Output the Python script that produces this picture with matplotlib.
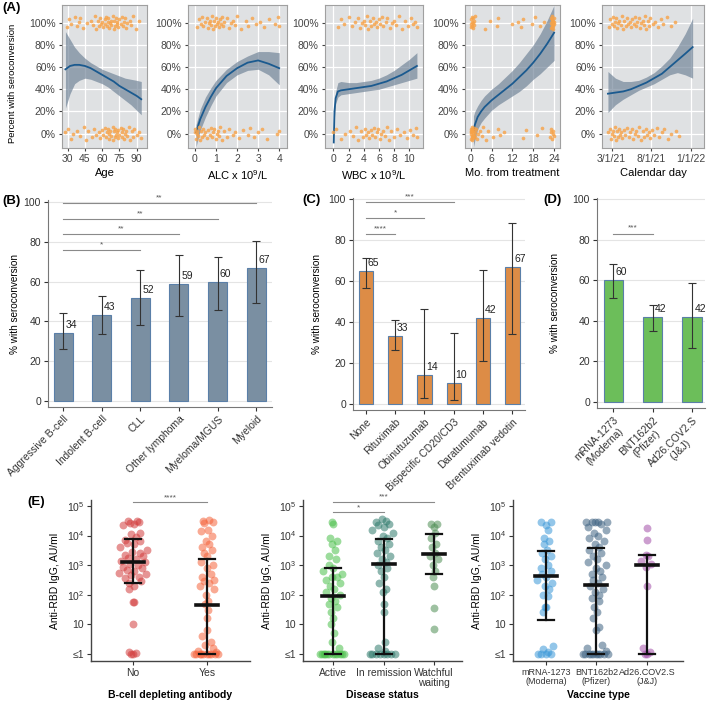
import numpy as np
import matplotlib
matplotlib.use("Agg")
import matplotlib.pyplot as plt

plt.rcParams['font.family'] = ['Liberation Sans', 'DejaVu Sans']
plt.rcParams['mathtext.fontset'] = 'custom'
plt.rcParams['mathtext.rm'] = 'Liberation Sans'
plt.rcParams['mathtext.it'] = 'Liberation Sans'

# ---------------- (A) smooth fits (% seroconverted) and jittered outcomes ----------------
age_x = [28, 32, 36, 40, 45, 50, 55, 60, 65, 70, 75, 80, 85, 90, 94]
age_fit = [58, 61, 62, 62, 61, 59, 56, 53, 50, 47, 43, 40, 37, 34, 31]
age_lo = [23, 36, 45, 48, 50, 49, 47, 45, 42, 38, 34, 30, 26, 21, 17]
age_hi = [92, 85, 78, 73, 68, 64, 61, 58, 56, 54, 52, 50, 49, 48, 47]
age_yes = [29, 31, 33, 36, 38, 40, 41, 43, 47, 50, 52, 54, 55, 56, 57, 58, 59, 60, 61, 62, 62, 63,
           64, 65, 65, 66, 67, 68, 68, 69, 70, 70, 71, 72, 73, 73, 74, 75, 76, 77, 78, 79, 80, 81,
           82, 84, 85, 87, 89, 92]
age_no = [28, 30, 33, 35, 38, 41, 44, 46, 48, 51, 53, 55, 57, 58, 60, 61, 62, 63, 64, 65, 66, 66,
          67, 68, 69, 69, 70, 71, 71, 72, 73, 74, 74, 75, 76, 77, 77, 78, 79, 80, 81, 82, 83, 84,
          86, 87, 88, 90, 92, 94]

alc_x = [0.05, 0.25, 0.5, 0.75, 1.0, 1.5, 2.0, 2.5, 3.0, 3.5, 4.0]
alc_fit = [1, 13, 24, 33, 41, 52, 59, 64, 66, 63, 59]
alc_lo = [-12, 3, 15, 25, 34, 46, 53, 57, 58, 53, 44]
alc_hi = [8, 22, 33, 41, 48, 58, 65, 70, 74, 74, 73]
alc_yes = [0.1, 0.2, 0.3, 0.35, 0.4, 0.5, 0.55, 0.6, 0.65, 0.7, 0.75, 0.8, 0.85, 0.9, 0.95, 1.0,
           1.05, 1.1, 1.15, 1.2, 1.25, 1.3, 1.35, 1.4, 1.5, 1.6, 1.7, 1.8, 1.9, 2.0, 2.2, 2.4, 2.5,
           2.7, 2.9, 3.1, 3.3, 3.5, 3.8, 3.95, 4.0]
alc_no = [0.0, 0.02, 0.05, 0.08, 0.1, 0.15, 0.2, 0.25, 0.3, 0.35, 0.4, 0.45, 0.5, 0.55, 0.6, 0.7,
          0.75, 0.8, 0.85, 0.9, 1.0, 1.05, 1.1, 1.15, 1.2, 1.3, 1.4, 1.5, 1.6, 1.8, 1.9, 2.1, 2.3,
          2.5, 2.6, 2.8, 3.0, 3.2, 3.4, 3.9, 4.0]

wbc_x = [0.05, 0.15, 0.3, 0.6, 1, 2, 3, 4, 5, 6, 7, 8, 9, 10, 11]
wbc_fit = [-8, 20, 32, 38, 39, 40, 41, 42, 43, 45, 47, 50, 53, 57, 61]
wbc_lo = [-10, 15, 27, 33, 35, 36, 37, 38, 39, 40, 42, 44, 46, 48, 50]
wbc_hi = [-5, 25, 38, 46, 47, 46, 46, 47, 48, 50, 53, 57, 62, 67, 73]
wbc_yes = [0.6, 1.0, 1.4, 2.0, 2.4, 2.9, 3.2, 3.5, 3.8, 4.0, 4.2, 4.4, 4.6, 4.8, 5.0, 5.2, 5.4,
           5.6, 5.8, 6.0, 6.2, 6.4, 6.6, 6.9, 7.1, 7.4, 7.7, 8.0, 8.3, 8.7, 9.0, 9.4, 9.8, 10.2,
           10.5, 10.8, 11.0]
wbc_no = [0.0, 0.3, 1.0, 1.5, 2.2, 2.6, 3.0, 3.3, 3.6, 3.9, 4.1, 4.3, 4.5, 4.7, 4.9, 5.1, 5.3,
          5.5, 5.7, 5.9, 6.1, 6.3, 6.5, 6.8, 7.0, 7.3, 7.6, 8.0, 8.4, 8.8, 9.3, 9.7, 10.1, 10.5,
          10.9, 11.0]

mo_x = [0.8, 1.2, 2, 3, 4, 6, 8, 10, 12, 14, 16, 18, 20, 22, 24]
mo_fit = [2, 8, 15, 20, 24, 30, 35, 40, 45, 51, 57, 64, 72, 81, 91]
mo_lo = [-12, -6, 4, 10, 14, 21, 26, 30, 34, 38, 43, 49, 54, 60, 66]
mo_hi = [16, 20, 25, 30, 34, 40, 45, 51, 57, 64, 72, 80, 90, 102, 116]
mo_yes = [0.0, 0.1, 0.2, 0.3, 0.4, 0.5, 0.6, 0.7, 0.8, 0.9, 1.0, 1.1, 4.0, 5.5, 7.5, 8.0, 12.0,
          13.5, 14.5, 15.0, 17.5, 18.5, 20.0, 21.0, 23.0, 23.1, 23.2, 23.3, 23.4, 23.5, 23.6, 23.7,
          23.8, 23.9, 24.0, 24.0, 23.5, 23.3, 23.8]
mo_no = [0.0, 0.05, 0.1, 0.15, 0.2, 0.25, 0.3, 0.35, 0.4, 0.45, 0.5, 0.55, 0.6, 0.7, 0.8, 0.9,
         1.0, 1.1, 1.3, 1.5, 1.8, 2.2, 2.7, 3.2, 3.6, 4.3, 5.0, 6.5, 7.8, 8.5, 9.5, 15.0, 16.0,
         19.0, 20.5, 22.8, 23.0, 23.2, 23.4, 23.6, 23.8, 24.0]

# calendar day = days since 3/1/21
day_x = [-14, 15, 45, 75, 105, 135, 165, 195, 225, 255, 285, 314]
day_fit = [36, 37, 38, 40, 43, 46, 50, 54, 60, 66, 72, 78]
day_lo = [19, 26, 31, 35, 39, 42, 45, 49, 53, 55, 53, 50]
day_hi = [56, 50, 47, 47, 48, 51, 55, 61, 68, 78, 90, 104]
day_yes = [-10, -5, 0, 5, 10, 14, 18, 22, 26, 30, 35, 40, 45, 50, 55, 60, 65, 70, 75, 80, 85, 90,
           95, 100, 105, 110, 115, 120, 125, 130, 135, 140, 145, 150, 160, 170, 180, 190, 200,
           215, 230, 245]
day_no = [-12, -6, -2, 2, 6, 10, 14, 18, 22, 26, 30, 34, 38, 42, 48, 54, 60, 66, 72, 78, 84, 90,
          96, 102, 108, 114, 120, 126, 132, 138, 144, 150, 158, 166, 175, 185, 195, 205, 218,
          232, 248, 262]

# ---------------- (B)(C)(D) % with seroconversion, 95% CI ----------------
b_groups = ["Aggressive B-cell", "Indolent B-cell", "CLL", "Other lymphoma", "Myeloma/MGUS", "Myeloid"]
b_pct = [34, 43, 52, 59, 60, 67]
b_lo = [26, 33.5, 38, 42.5, 45.5, 49.5]
b_hi = [44, 53, 66, 73.5, 72.5, 80.5]
b_sig = [(0, 2, 76, '*'), (0, 3, 84, '**'), (0, 4, 91.5, '**'), (0, 5, 99.5, '**')]

c_groups = ["None", "Rituximab", "Obinutuzumab", "Bispecific CD20/CD3", "Daratumumab", "Brentuximab vedotin"]
c_pct = [65, 33, 14, 10, 42, 67]
c_lo = [56.7, 26.3, 2.8, 2, 21, 34]
c_hi = [71.4, 40.7, 46.3, 34.5, 65.5, 88.3]
c_sig = [(0, 1, 83, '****'), (0, 2, 90.6, '*'), (0, 3, 98.7, '***')]

d_groups = ["mRNA-1273\n(Moderna)", "BNT162b2\n(Pfizer)", "Ad26.COV2.S\n(J&J)"]
d_pct = [60, 42, 42]
d_lo = [51, 35, 26.5]
d_hi = [68, 48, 58.5]
d_sig = [(0, 1, 83, '***')]

# ---------------- (E) anti-RBD IgG, log10 AU/ml (0 means <=1) ----------------
no_log10 = [4.5, 4.48, 4.45, 4.42, 4.4, 4.35, 4.1, 4.05, 3.95, 3.85, 3.8, 3.75, 3.7, 3.6, 3.5, 3.45,
            3.4, 3.35, 3.3, 3.25, 3.2, 3.15, 3.1, 3.05, 3.0, 2.95, 2.9, 2.85, 2.8, 2.75, 2.7, 2.65,
            2.6, 2.55, 2.45, 2.4, 2.3, 2.2, 1.75, 1.75, 1.0, 0.05, 0.0, 0.02, 0.0]
yes_log10 = [4.52, 4.5, 4.45, 4.42, 4.2, 4.15, 4.0, 3.8, 3.7, 3.6, 3.5, 3.4, 3.3, 3.1, 3.0, 2.9,
             2.7, 2.6, 2.5, 2.45, 2.4, 2.3, 2.2, 2.0, 1.8, 1.7, 1.5, 1.2, 0.8, 0.6, 0.4, 0.3, 0.2,
             0.1, 0.05, 0.0, 0.0, 0.0, 0.0, 0.0, 0.0, 0.0, 0.0, 0.0, 0.0]
active_log10 = [4.45, 4.4, 3.9, 3.8, 3.7, 3.5, 3.3, 3.2, 3.0, 2.9, 2.8, 2.7, 2.6, 2.6, 2.5, 2.4,
                2.3, 2.2, 2.1, 2.0, 1.9, 1.8, 1.7, 1.6, 1.4, 1.2, 1.0, 0.7, 0.4, 0.2, 0.0, 0.0,
                0.0, 0.0, 0.0, 0.0, 0.0, 0.0, 0.0, 0.0, 0.0, 0.0]
remission_log10 = [4.55, 4.5, 4.45, 4.4, 4.35, 4.3, 4.2, 4.1, 4.0, 3.9, 3.8, 3.7, 3.6, 3.5, 3.4,
                   3.3, 3.2, 3.1, 3.0, 2.9, 2.8, 2.6, 2.4, 2.2, 2.1, 1.7, 1.4, 0.4, 0.2, 0.1, 0.0,
                   0.0, 0.0, 0.0, 0.0, 0.0, 0.0, 0.0]
watchful_log10 = [4.4, 4.4, 4.3, 4.1, 3.9, 3.7, 3.6, 3.4, 3.3, 3.2, 3.0, 2.8, 2.6, 2.3, 1.55, 0.85]
mrna_log10 = [4.45, 4.45, 4.35, 4.2, 3.9, 3.8, 3.7, 3.5, 3.4, 3.3, 3.2, 3.0, 2.9, 2.8, 2.7, 2.6,
              2.5, 2.4, 2.3, 2.2, 2.0, 1.95, 1.6, 1.6, 1.4, 0.25, 0.15, 0.05, 0.0, 0.0, 0.0, 0.0]
bnt_log10 = [4.45, 4.45, 4.45, 4.45, 4.45, 4.4, 4.3, 4.2, 4.1, 4.0, 3.9, 3.8, 3.7, 3.6, 3.5, 3.4,
             3.3, 3.2, 3.1, 3.0, 2.9, 2.8, 2.7, 2.6, 2.5, 2.4, 2.3, 2.2, 2.1, 2.0, 1.9, 1.8, 1.6,
             1.4, 1.2, 0.9, 0.8, 0.3, 0.2, 0.1, 0.0, 0.0, 0.0, 0.0, 0.0, 0.0, 0.0, 0.0, 0.0, 0.0]
ad26_log10 = [4.25, 3.85, 3.35, 3.3, 3.15, 3.05, 2.95, 2.3, 0.2, 0.05, 0.0, 0.0]

# median and interquartile range (log10)
e1_names = ["No", "Yes"]
e1_med = [3.12, 1.65]
e1_q1 = [2.41, 0.0]
e1_q3 = [3.87, 3.2]
e2_names = ["Active", "In remission", "Watchful\nwaiting"]
e2_med = [1.96, 3.04, 3.39]
e2_q1 = [0.0, 0.0, 2.71]
e2_q3 = [2.9, 3.88, 4.05]
e3_names = ["mRNA-1273\n(Moderna)", "BNT162b2\n(Pfizer)", "Ad26.COV2.S\n(J&J)"]
e3_med = [2.64, 2.33, 3.0]
e3_q1 = [1.13, 0.0, 0.0]
e3_q3 = [3.47, 3.59, 3.34]

W, H = 709, 702
fig = plt.figure(figsize=(W / 100, H / 100), dpi=100)


def box(l, t, r, b):
    # pixel box -> figure fraction
    return [l / W, 1 - b / H, (r - l) / W, (b - t) / H]


def plabel(x, y, s):
    fig.text(x / W, 1 - y / H, s, fontsize=9.5, fontweight='bold', va='center', ha='left')


# ---------------- row A ----------------
jit = np.array([-4, 3, -1, 5, -3, 1, 4, -5, 0, 2, -2, 6, -6, 2, -3, 4, -1, 1])

a_panels = [
    (62, 147, (25, 99), [30, 45, 60, 75, 90], None, "Age", age_x, age_fit, age_lo, age_hi, age_yes, age_no),
    (188, 287, (-0.33, 4.37), [0, 1, 2, 3, 4], None, "ALC x 10$^9$/L", alc_x, alc_fit, alc_lo, alc_hi, alc_yes, alc_no),
    (325, 423, (-1.1, 11.8), [0, 2, 4, 6, 8, 10], None, "WBC x 10$^9$/L", wbc_x, wbc_fit, wbc_lo, wbc_hi, wbc_yes, wbc_no),
    (465, 560, (-1.64, 25.7), [0, 6, 12, 18, 24], None, "Mo. from treatment", mo_x, mo_fit, mo_lo, mo_hi, mo_yes, mo_no),
    (602, 704, (-37, 358), [0, 153, 306], ["3/1/21", "8/1/21", "1/1/22"], "Calendar day", day_x, day_fit, day_lo, day_hi, day_yes, day_no),
]

for i, (l, r, xl, xt, xtl, xlab, fx, fm, flo, fhi, pyes, pno) in enumerate(a_panels):
    ax = fig.add_axes(box(l, 5, r, 148))
    ax.set_facecolor('#dfe1e3')
    ax.grid(True, color='white', lw=0.9)
    ax.set_axisbelow(True)
    ax.fill_between(fx, flo, fhi, color='#6b7f94', alpha=0.65, lw=0, zorder=2)
    ax.plot(fx, fm, color='#1b5a8f', lw=1.3, zorder=3)
    ax.scatter(pyes, 100 + jit[np.arange(len(pyes)) % len(jit)], s=7, color='#f7a247', alpha=0.8, lw=0, zorder=4)
    ax.scatter(pno, 0 + jit[(np.arange(len(pno)) + 5) % len(jit)], s=7, color='#f7a247', alpha=0.8, lw=0, zorder=4)
    ax.set_xlim(*xl)
    ax.set_ylim(-13, 116)
    ax.set_xticks(xt)
    if xtl:
        ax.set_xticklabels(xtl)
    ax.set_yticks([0, 20, 40, 60, 80, 100])
    ax.set_yticklabels([f"{v}%" for v in [0, 20, 40, 60, 80, 100]])
    ax.tick_params(labelsize=7.5, colors='#444', length=2.5, pad=2)
    for s in ax.spines.values():
        s.set_color('#a0a0a0')
    ax.set_xlabel(xlab, fontsize=8, labelpad=3)
    if i == 0:
        ax.set_ylabel("Percent with seroconversion", fontsize=6.8)
        ax.yaxis.set_label_coords(-45 / (r - l), 0.45)

plabel(2, 8, "(A)")


# ---------------- row B, C, D ----------------
def bar_panel(rect, xl, yl, names, pct, lo, hi, color, sigs, ylab_x, lsp=1.0):
    ax = fig.add_axes(rect)
    x = np.arange(len(pct))
    pct = np.array(pct)
    ax.bar(x, pct, width=0.49, color=color, edgecolor='#5a7fa8', lw=0.8, zorder=2)
    ax.errorbar(x, pct, yerr=[pct - np.array(lo), np.array(hi) - pct], fmt='none', ecolor='#333333',
                elinewidth=0.8, capsize=3, capthick=0.8, zorder=3)
    for xi, v in zip(x, pct):
        ax.text(xi + 0.06, v + 1.5, str(v), ha='left', va='bottom', fontsize=7.5, color='#222', zorder=4)
    for a, b, y, s in sigs:
        ax.plot([a, b], [y, y], color='#8a8a8a', lw=0.8, clip_on=False)
        ax.text((a + b) / 2, y + 0.8, s, ha='center', va='bottom', fontsize=6, color='#555')
    ax.set_xlim(*xl)
    ax.set_ylim(*yl)
    ax.set_yticks([0, 20, 40, 60, 80, 100])
    ax.yaxis.grid(True, color='#e4e4e4', lw=0.8)
    ax.set_axisbelow(True)
    ax.set_xticks(x)
    ax.set_xticklabels(names, rotation=45, ha='right', rotation_mode='anchor', multialignment='center',
                       linespacing=lsp)
    ax.tick_params(labelsize=7.5, colors='#333', length=3, pad=2)
    for s in ['top', 'right']:
        ax.spines[s].set_visible(False)
    for s in ['left', 'bottom']:
        ax.spines[s].set_color('#777')
    ax.set_ylabel("% with seroconversion", fontsize=7.2)
    ax.yaxis.set_label_coords(ylab_x, 0.5)
    return ax


bar_panel(box(48, 200, 272, 407), (-0.39, 5.41), (-3, 101), b_groups, b_pct, b_lo, b_hi, '#7a8fa2', b_sig, -0.125)
plabel(2, 201, "(B)")
bar_panel(box(353, 198, 525, 410), (-0.44, 5.43), (-3, 100.5), c_groups, c_pct, c_lo, c_hi, '#dd8c46', c_sig, -0.18)
plabel(302, 200, "(C)")
bar_panel(box(597, 198, 705, 408), (-0.41, 2.33), (-3, 100.5), d_groups, d_pct, d_lo, d_hi, '#6cbe5a', d_sig, -0.34,
          lsp=1.15)
plabel(543, 200, "(D)")


# ---------------- row E ----------------
def vdc(n):
    # van der Corput sequence in base 2, for quasirandom horizontal spread
    v, den = 0.0, 1.0
    while n:
        den *= 2
        n, rem = divmod(n, 2)
        v += rem / den
    return v


def spread(vals, ppu, maxoff=15, win=0.3, full=9):
    vals = np.asarray(vals, dtype=float)
    offs = np.zeros(len(vals))
    for rank, i in enumerate(np.argsort(vals)):
        n = np.sum(np.abs(vals - vals[i]) <= win)
        width = maxoff * min(1.0, (n - 1) / full)
        offs[i] = (2 * vdc(rank + 1) - 1) * width / ppu
    return offs


def dot_panel(l, r, xl, names, groups, colors, med, q1, q3, sigs, xlab, tsize):
    ax = fig.add_axes(box(l, 500, r, 661))
    ppu = (r - l) / (xl[1] - xl[0])
    for k, (vals, col) in enumerate(zip(groups, colors)):
        offs = spread(vals, ppu)
        ax.scatter(k + offs, 10 ** np.array(vals), s=32, color=col, alpha=0.55, lw=0, zorder=2)
        hw, cw = 11 / ppu, 8 / ppu
        ax.plot([k, k], [10 ** q1[k], 10 ** q3[k]], color='#111', lw=1.6, zorder=3)
        ax.plot([k - cw, k + cw], [10 ** q1[k]] * 2, color='#111', lw=1.6, zorder=3)
        ax.plot([k - cw, k + cw], [10 ** q3[k]] * 2, color='#111', lw=1.6, zorder=3)
        ax.plot([k - hw, k + hw], [10 ** med[k]] * 2, color='#111', lw=2.6, zorder=3)
    for a, b, y, s in sigs:
        ax.plot([a, b], [10 ** y] * 2, color='#8a8a8a', lw=0.8, clip_on=False)
        ax.text((a + b) / 2, 10 ** (y + 0.03), s, ha='center', va='bottom', fontsize=6, color='#555')
    ax.set_yscale('log')
    ax.set_ylim(10 ** -0.24, 10 ** 5.2)
    ax.set_yticks([1, 10, 100, 1e3, 1e4, 1e5])
    ax.set_yticklabels(['≤1', '10', '$10^2$', '$10^3$', '$10^4$', '$10^5$'])
    ax.minorticks_off()
    ax.set_xlim(*xl)
    ax.set_xticks(range(len(names)))
    ax.set_xticklabels(names, linespacing=1.0)
    ax.tick_params(axis='y', labelsize=7.5, colors='#333', length=3, pad=2)
    ax.tick_params(axis='x', labelsize=tsize, colors='#333', length=3, pad=2)
    for s in ['top', 'right']:
        ax.spines[s].set_visible(False)
    for s in ['left', 'bottom']:
        ax.spines[s].set_color('#444')
        ax.spines[s].set_linewidth(1.0)
    ax.set_ylabel("Anti-RBD IgG, AU/ml", fontsize=7.5)
    ax.yaxis.set_label_coords(-31 / (r - l), 0.5)
    fig.text((l + r) / 2 / W, 1 - 695 / H, xlab, fontsize=7.5, fontweight='bold', ha='center', va='center')
    return ax


dot_panel(91, 250, (-0.57, 1.58), e1_names, [no_log10, yes_log10], ['#d23c3c', '#f5643c'],
          e1_med, e1_q1, e1_q3, [(0, 1, 5.13, '****')], "B-cell depleting antibody", 7.5)
dot_panel(303, 462, (-0.59, 2.55), e2_names, [active_log10, remission_log10, watchful_log10],
          ['#4cc04c', '#2f7a6c', '#4f8f55'], e2_med, e2_q1, e2_q3,
          [(0, 2, 5.14, '***'), (0, 1, 4.8, '*')], "Disease status", 7.4)
dot_panel(513, 683, (-0.65, 2.71), e3_names, [mrna_log10, bnt_log10, ad26_log10],
          ['#3a98d8', '#3f6382', '#a24fa8'], e3_med, e3_q1, e3_q3, [], "Vaccine type", 6.5)
plabel(27, 502, "(E)")

fig.savefig("out.png", dpi=100)
